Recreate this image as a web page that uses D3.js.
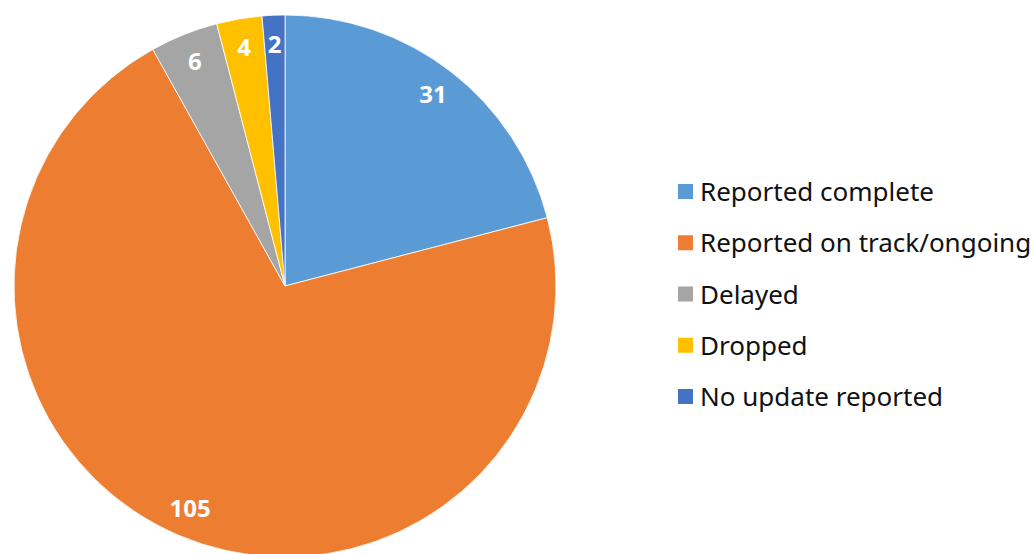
<!DOCTYPE html>
<html lang="en">
  <head>
    <meta charset="UTF-8" />
    <title>Status</title>
    <script src="https://cdn.jsdelivr.net/npm/d3@7"></script>
    <style>
      body { margin: 0; background: #fff; }
    </style>
  </head>
  <body>
    <div id="wrapper"></div>
    <script>
      const categories = ['Reported complete', 'Reported on track/ongoing', 'Delayed', 'Dropped', 'No update reported']
      const values = [31, 105, 6, 4, 2]
      const colors = ['#5B9BD5', '#ED7D31', '#A5A5A5', '#FFC000', '#4472C4']

      const dms = {
        width: 1033,
        height: 554,
        cx: 285,
        cy: 286,
        radius: 271,
        labelRadius: 242
      }

      const data = categories.map((c, i) => ({ name: c, value: values[i], color: colors[i] }))

      const $svg = d3.select('#wrapper').append('svg')
        .attr('width', dms.width)
        .attr('height', dms.height)

      const pie = d3.pie()
        .value(d => d.value)
        .sort(null)

      const arc = d3.arc()
        .innerRadius(0)
        .outerRadius(dms.radius)

      const labelArc = d3.arc()
        .innerRadius(dms.labelRadius)
        .outerRadius(dms.labelRadius)

      const g = $svg.append('g')
        .attr('transform', `translate(${dms.cx},${dms.cy})`)

      const arcs = pie(data)

      g.selectAll('path')
        .data(arcs)
        .join('path')
        .attr('d', arc)
        .attr('fill', d => d.data.color)
        .attr('stroke', '#fff')
        .attr('stroke-width', 0.8)

      g.selectAll('text')
        .data(arcs)
        .join('text')
        .attr('transform', d => `translate(${labelArc.centroid(d)})`)
        .attr('text-anchor', 'middle')
        .attr('dy', '0.36em')
        .attr('fill', '#fff')
        .attr('font-family', '"Open Sans", sans-serif')
        .attr('font-weight', 'bold')
        .attr('font-size', 24)
        .text(d => d.data.value)

      // legend
      const legend = $svg.append('g')
        .attr('transform', 'translate(678,192)')

      const rowY = d3.scalePoint()
        .domain(categories)
        .range([0, 205])

      const item = legend.selectAll('g')
        .data(data)
        .join('g')
        .attr('transform', d => `translate(0,${rowY(d.name)})`)

      item.append('rect')
        .attr('x', 0)
        .attr('y', -8)
        .attr('width', 15)
        .attr('height', 15)
        .attr('fill', d => d.color)

      item.append('text')
        .attr('x', 22)
        .attr('dy', '0.35em')
        .attr('font-family', '"Noto Sans", sans-serif')
        .attr('font-size', 26)
        .attr('fill', '#111')
        .text(d => d.name)
    </script>
  </body>
</html>
